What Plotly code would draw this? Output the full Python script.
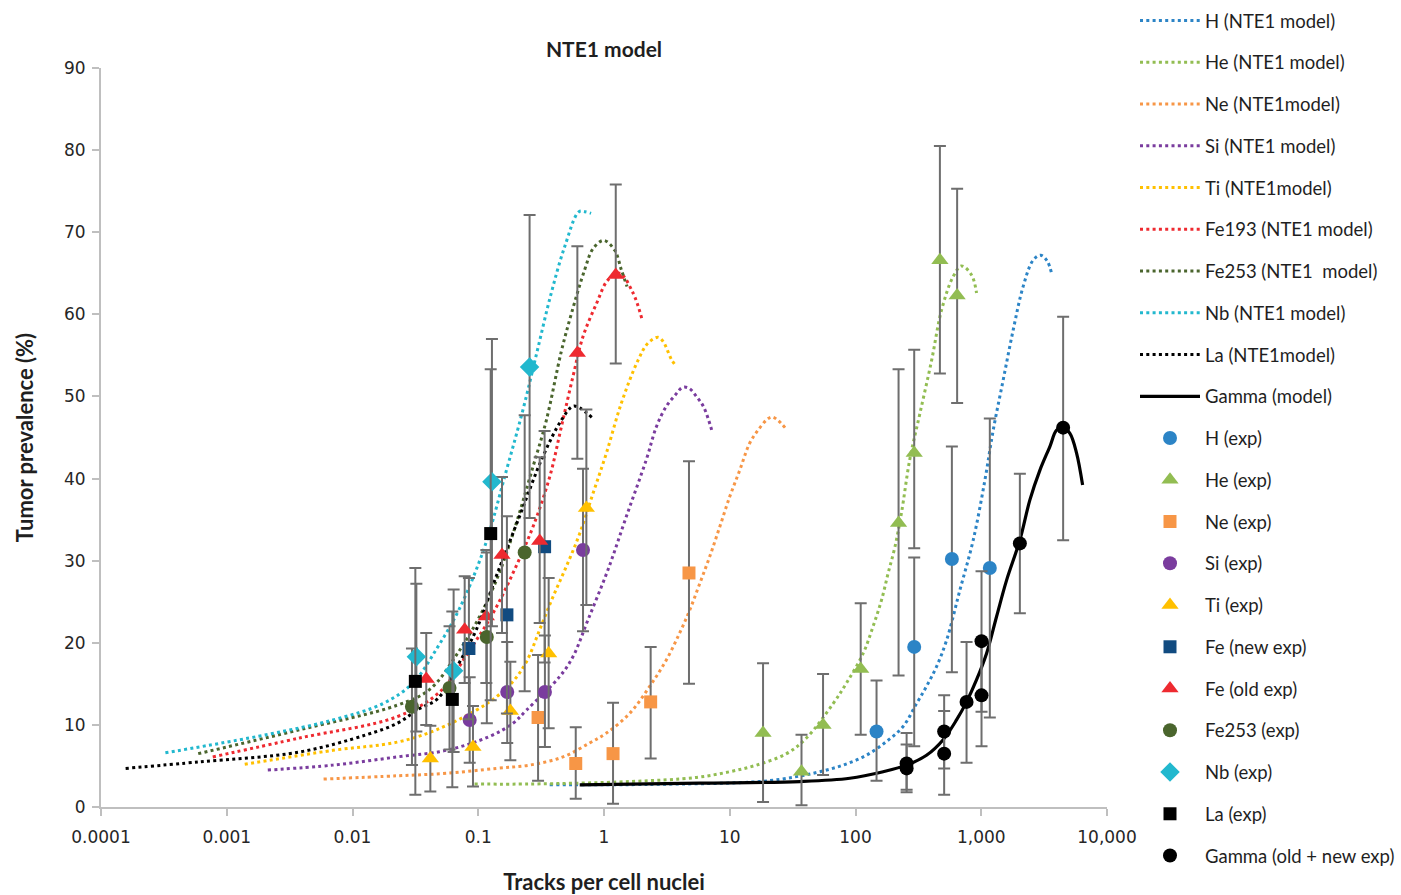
import plotly.graph_objects as go

# ---------------- model curves (NTE1) ----------------
H_model_x = [0.370, 2.31, 17.3, 34.0, 52.0, 79.7, 122, 177, 239, 306, 367, 441, 530, 676, 863, 1069, 1245, 1494, 1795, 2154, 2588, 2970, 3343, 3624]
H_model_y = [2.7, 2.75, 3.1, 3.7, 4.3, 5.1, 6.3, 8.0, 9.8, 12.6, 14.7, 17.1, 20.3, 26.4, 32.5, 39.8, 45.9, 52.0, 58.1, 63.4, 66.6, 67.2, 66.5, 65.0]

He_model_x = [0.0935, 0.256, 1.60, 5.43, 10.0, 16.3, 28.3, 40.7, 66.4, 84.8, 115, 138, 161, 182, 206, 232, 270, 325, 403, 483, 598, 697, 837, 918]
He_model_y = [2.8, 2.8, 3.1, 3.6, 4.3, 5.1, 6.5, 8.4, 12.6, 15.1, 18.7, 22.0, 25.2, 28.5, 31.7, 35.8, 42.3, 47.9, 54.4, 60.5, 64.6, 65.9, 64.8, 62.6]

Ne_model_x = [0.00589, 0.0227, 0.0557, 0.139, 0.256, 0.472, 0.769, 1.045, 1.60, 2.31, 3.13, 4.00, 4.81, 5.77, 6.93, 8.32, 10.0, 12.0, 14.4, 16.8, 19.8, 21.7, 24.2, 27.9]
Ne_model_y = [3.4, 3.8, 4.1, 4.7, 5.1, 6.1, 7.8, 9.0, 11.4, 14.7, 17.9, 21.2, 24.0, 27.2, 30.5, 34.1, 37.8, 41.0, 44.3, 45.9, 47.2, 47.5, 47.1, 46.1]

Si_model_x = [0.00212, 0.00698, 0.0227, 0.0557, 0.1233, 0.189, 0.242, 0.445, 0.566, 0.746, 1.076, 1.507, 2.17, 2.61, 3.13, 3.70, 4.21, 4.74, 5.43, 6.21, 7.28]
Si_model_y = [4.5, 5.1, 6.1, 6.9, 8.6, 10.2, 11.8, 15.9, 18.3, 22.8, 28.9, 35.4, 42.3, 46.3, 48.8, 50.2, 51.1, 51.0, 50.0, 48.7, 45.6]

Ti_model_x = [0.00139, 0.00698, 0.0227, 0.0465, 0.0966, 0.139, 0.189, 0.242, 0.308, 0.393, 0.502, 0.641, 0.818, 1.045, 1.375, 1.864, 2.239, 2.69, 2.95, 3.44, 3.70]
Ti_model_y = [5.2, 6.9, 7.9, 9.4, 11.8, 13.4, 15.3, 17.7, 21.6, 25.6, 29.3, 33.3, 38.2, 43.1, 49.2, 54.4, 56.5, 57.2, 56.7, 54.5, 53.8]

Fe193_model_x = [0.000774, 0.00379, 0.0227, 0.0493, 0.0855, 0.131, 0.189, 0.272, 0.370, 0.458, 0.566, 0.681, 0.871, 1.076, 1.333, 1.702, 2.005]
Fe193_model_y = [6.1, 8.4, 11.0, 14.0, 19.1, 23.6, 28.5, 34.1, 40.2, 46.3, 52.4, 57.3, 61.3, 64.2, 65.0, 62.6, 59.4]

Fe253_model_x = [0.000593, 0.00379, 0.0227, 0.0410, 0.0670, 0.1025, 0.1435, 0.189, 0.272, 0.348, 0.458, 0.551, 0.701, 0.818, 0.995, 1.217, 1.375, 1.524]
Fe253_model_y = [6.5, 9.4, 12.4, 14.3, 18.5, 23.2, 28.1, 33.3, 41.4, 47.1, 55.5, 60.1, 65.4, 68.0, 69.0, 67.8, 65.4, 63.4]

Nb_model_x = [0.000325, 0.00206, 0.00698, 0.01746, 0.0302, 0.0477, 0.0711, 0.1125, 0.1675, 0.227, 0.292, 0.375, 0.486, 0.632, 0.706, 0.789]
Nb_model_y = [6.6, 8.8, 10.6, 12.6, 15.1, 19.5, 24.2, 31.7, 41.0, 48.4, 55.3, 62.2, 68.2, 72.5, 72.5, 72.3]

La_model_x = [0.000157, 0.000608, 0.00379, 0.0129, 0.0227, 0.0342, 0.0477, 0.0690, 0.0966, 0.139, 0.213, 0.327, 0.458, 0.566, 0.641, 0.818]
La_model_y = [4.7, 5.5, 6.7, 8.8, 10.2, 12.0, 13.2, 17.3, 21.6, 28.1, 35.4, 42.7, 47.1, 48.8, 48.6, 47.3]

Gamma_model_x = [0.641, 5.77, 36.1, 90.1, 166, 255, 367, 498, 636, 764, 918, 1102, 1324, 1589, 2028, 2437, 2924, 3514, 3972, 4479, 5070, 5728, 6398]
Gamma_model_y = [2.7, 2.9, 3.1, 3.5, 4.3, 5.1, 6.3, 8.2, 10.6, 12.8, 15.5, 18.7, 23.2, 27.6, 32.5, 37.4, 41.0, 43.9, 45.9, 46.2, 45.5, 43.1, 39.2]

# ---------------- experimental points (value, upper, lower) ----------------
H_x = [147, 293, 584, 1170]
H_y = [9.2, 19.5, 30.2, 29.1]
H_hi = [15.4, 30.4, 43.9, 47.3]
H_lo = [3.2, 7.4, 16.4, 10.9]

He_x = [18.4, 37.2, 55.2, 110, 220, 293, 469, 643]
He_y = [9.0, 4.3, 10.0, 16.8, 34.6, 43.1, 66.6, 62.3]
He_hi = [17.5, 8.8, 16.2, 24.8, 53.3, 55.7, 80.5, 75.3]
He_lo = [0.6, 0.2, 3.9, 8.8, 16.0, 31.5, 52.8, 49.2]

Ne_x = [0.299, 0.596, 1.18, 2.35, 4.74]
Ne_y = [10.9, 5.3, 6.5, 12.8, 28.5]
Ne_hi = [18.5, 9.7, 12.7, 19.5, 42.1]
Ne_lo = [3.2, 1.0, 0.4, 5.9, 15.0]

Si_x = [0.0855, 0.170, 0.339, 0.681]
Si_y = [10.6, 14.0, 14.0, 31.3]
Si_hi = [15.8, 20.1, 20.9, 41.2]
Si_lo = [5.4, 7.8, 7.3, 21.4]

Ti_x = [0.0416, 0.0908, 0.180, 0.363, 0.724]
Ti_y = [5.9, 7.3, 11.7, 18.7, 36.4]
Ti_hi = [9.9, 12.3, 17.7, 27.9, 48.4]
Ti_lo = [1.9, 2.5, 5.7, 9.6, 24.6]

FeNew_x = [0.0843, 0.169, 0.337]
FeNew_y = [19.3, 23.4, 31.7]
FeNew_hi = [27.9, 35.4, 45.8]
FeNew_lo = [10.7, 11.4, 17.6]

FeOld_x = [0.0386, 0.078, 0.116, 0.1545, 0.308, 0.614, 1.24]
FeOld_y = [15.6, 21.6, 23.2, 30.7, 32.4, 55.3, 64.8]
FeOld_hi = [21.2, 28.1, 31.3, 40.2, 42.6, 68.3, 75.8]
FeOld_lo = [10.0, 15.1, 15.1, 21.2, 22.4, 42.4, 54.0]

Fe253_x = [0.0297, 0.0591, 0.117, 0.234]
Fe253_y = [12.2, 14.5, 20.7, 31.0]
Fe253_hi = [19.3, 22.0, 31.0, 47.7]
Fe253_lo = [5.1, 7.0, 10.2, 14.1]

Nb_x = [0.0322, 0.0637, 0.1285, 0.256]
Nb_y = [18.3, 16.6, 39.6, 53.6]
Nb_hi = [27.2, 26.5, 57.0, 72.1]
Nb_lo = [9.2, 6.7, 22.0, 35.2]

La_x = [0.0316, 0.0622, 0.1256]
La_y = [15.3, 13.1, 33.3]
La_hi = [29.1, 23.8, 53.3]
La_lo = [1.5, 2.4, 13.0]

Gamma_x = [255, 255, 507, 507, 764, 1005, 1005, 2028, 4479]
Gamma_y = [5.3, 4.7, 9.2, 6.5, 12.8, 20.2, 13.6, 32.1, 46.2]
Gamma_hi = [9.0, 7.6, 13.6, 11.7, 20.1, 28.7, 19.8, 40.6, 59.7]
Gamma_lo = [2.1, 1.8, 4.7, 1.5, 5.4, 11.6, 7.4, 23.6, 32.5]

x_tickvals = [0.0001, 0.001, 0.01, 0.1, 1, 10, 100, 1000, 10000]
x_ticktext = ["0.0001", "0.001", "0.01", "0.1", "1", "10", "100", "1,000", "10,000"]

# ---------------- colours ----------------
C_H = "#2C84C6"
C_He = "#92BD52"
C_Ne = "#F79646"
C_Si = "#7A3C9E"
C_Ti = "#FFC000"
C_Fe193 = "#EE2A30"
C_Fe253 = "#4A652D"
C_Nb = "#22B8CE"
C_La = "#000000"
C_FeNew = "#114B80"
ERR = "#6E6E6E"

LEG_FONT = dict(family="Lato", size=18.5, color="#1f1f1f")

fig = go.Figure()

models = [
    ("H (NTE1 model)", H_model_x, H_model_y, C_H),
    ("He (NTE1 model)", He_model_x, He_model_y, C_He),
    ("Ne (NTE1model)", Ne_model_x, Ne_model_y, C_Ne),
    ("Si (NTE1 model)", Si_model_x, Si_model_y, C_Si),
    ("Ti (NTE1model)", Ti_model_x, Ti_model_y, C_Ti),
    ("Fe193 (NTE1 model)", Fe193_model_x, Fe193_model_y, C_Fe193),
    ("Fe253 (NTE1  model)", Fe253_model_x, Fe253_model_y, C_Fe253),
    ("Nb (NTE1 model)", Nb_model_x, Nb_model_y, C_Nb),
    ("La (NTE1model)", La_model_x, La_model_y, C_La),
]
for i, (name, xs, ys, col) in enumerate(models):
    fig.add_trace(go.Scatter(
        x=xs, y=ys, mode="lines", name=name, legendgroup=f"g{i}",
        line=dict(color=col, width=3, dash="3px,3.3px", shape="spline", smoothing=1.0),
    ))

fig.add_trace(go.Scatter(
    x=Gamma_model_x, y=Gamma_model_y, mode="lines", name="Gamma (model)", legendgroup="g9",
    line=dict(color="#000000", width=3.2, shape="spline", smoothing=1.0),
))

exps = [
    ("H (exp)", H_x, H_y, H_hi, H_lo, C_H, "circle", 14),
    ("He (exp)", He_x, He_y, He_hi, He_lo, C_He, "triangle-up", 15),
    ("Ne (exp)", Ne_x, Ne_y, Ne_hi, Ne_lo, C_Ne, "square", 13),
    ("Si (exp)", Si_x, Si_y, Si_hi, Si_lo, C_Si, "circle", 14),
    ("Ti (exp)", Ti_x, Ti_y, Ti_hi, Ti_lo, C_Ti, "triangle-up", 15),
    ("Fe (new exp)", FeNew_x, FeNew_y, FeNew_hi, FeNew_lo, C_FeNew, "square", 13),
    ("Fe (old exp)", FeOld_x, FeOld_y, FeOld_hi, FeOld_lo, C_Fe193, "triangle-up", 15),
    ("Fe253 (exp)", Fe253_x, Fe253_y, Fe253_hi, Fe253_lo, C_Fe253, "circle", 14),
    ("Nb (exp)", Nb_x, Nb_y, Nb_hi, Nb_lo, C_Nb, "diamond", 15),
    ("La (exp)", La_x, La_y, La_hi, La_lo, C_La, "square", 13),
    ("Gamma (old + new exp)", Gamma_x, Gamma_y, Gamma_hi, Gamma_lo, "#000000", "circle", 14),
]
for j, (name, xs, ys, hi, lo, col, sym, sz) in enumerate(exps):
    plus = [h - v for h, v in zip(hi, ys)]
    minus = [v - l for l, v in zip(lo, ys)]
    fig.add_trace(go.Scatter(
        x=xs, y=ys, mode="markers", name=name, legendgroup=f"e{j}",
        marker=dict(color=col, symbol=sym, size=sz, line=dict(width=0)),
        error_y=dict(type="data", symmetric=False, array=plus, arrayminus=minus,
                     color=ERR, thickness=2, width=6),
    ))

fig.update_layout(
    width=1401, height=895,
    margin=dict(l=101, r=294, t=68, b=88, autoexpand=False),
    paper_bgcolor="white", plot_bgcolor="white",
    title=dict(text="<b>NTE1 model</b>", x=0.5, xref="paper", xanchor="center",
               y=1 - 50 / 895, yref="container", yanchor="middle",
               font=dict(family="Lato", size=21, color="#1f1f1f")),
    showlegend=True,
    legend=dict(xref="container", yref="container", x=1135 / 1401, xanchor="left",
                y=1 - 2 / 895, yanchor="top",
                font=LEG_FONT, traceorder="grouped", tracegroupgap=14.7,
                itemwidth=60, bgcolor="rgba(0,0,0,0)", borderwidth=0),
    xaxis=dict(type="log", range=[-4, 4], tickvals=x_tickvals, ticktext=x_ticktext,
               automargin=False,
               showgrid=False, zeroline=False, showline=True, linecolor="#BFBFBF", linewidth=2,
               ticks="outside", ticklen=7, tickcolor="#BFBFBF", tickwidth=2,
               tickfont=dict(family="DejaVu Sans", size=17, color="#262626"),
               title=dict(text="<b>Tracks per cell nuclei</b>", standoff=35,
                          font=dict(family="Lato", size=22, color="#1f1f1f"))),
    yaxis=dict(range=[0, 90], tickvals=list(range(0, 91, 10)),
               automargin=False,
               showgrid=False, zeroline=False, showline=True, linecolor="#BFBFBF", linewidth=2,
               ticks="outside", ticklen=7, tickcolor="#BFBFBF", tickwidth=2,
               tickfont=dict(family="DejaVu Sans", size=17, color="#262626"),
               title=dict(text="<b>Tumor prevalence (%)</b>", standoff=24,
                          font=dict(family="Lato", size=22, color="#1f1f1f"))),
)

# allow the long legend to use the full figure height (newer plotly versions)
try:
    fig.update_layout(legend=dict(maxheight=895))
except Exception:
    pass
try:
    fig.update_xaxes(ticklabelstandoff=7)
    fig.update_yaxes(ticklabelstandoff=3)
except Exception:
    pass

fig.write_html(
    "out.html",
    config={"displayModeBar": False},
    post_script="document.body.style.margin='0px';document.body.style.overflow='hidden';",
)
